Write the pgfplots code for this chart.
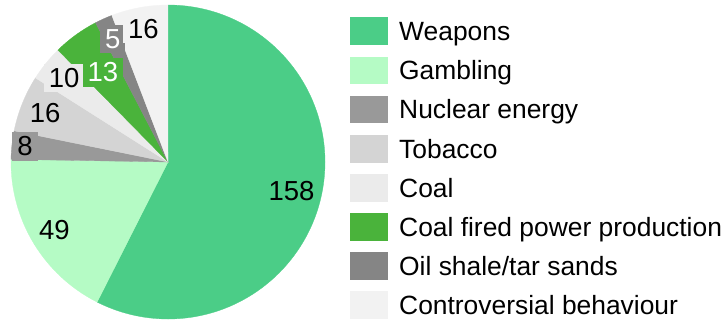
\documentclass[border=0pt]{standalone}
\usepackage{pgfplots}
\usepackage{pgfplotstable}
\pgfplotsset{compat=1.18}
\usepackage{fontspec}
\setmainfont{Liberation Sans}
\definecolor{cW}{HTML}{4BCD87}
\definecolor{cG}{HTML}{B5FBC5}
\definecolor{cN}{HTML}{999999}
\definecolor{cT}{HTML}{D4D4D4}
\definecolor{cC}{HTML}{EBEBEB}
\definecolor{cF}{HTML}{4AB33B}
\definecolor{cO}{HTML}{858585}
\definecolor{cB}{HTML}{F2F2F2}
\pgfplotstableread[col sep=comma]{
label,value,color,r,tc
Weapons,158,cW,0.809,black
Gambling,49,cG,0.845,black
Nuclear energy,8,cN,0.916,black
Tobacco,16,cT,0.843,black
Coal,10,cC,0.851,black
Coal fired power production,13,cF,0.706,white
Oil shale/tar sands,5,cO,0.859,white
Controversial behaviour,16,cB,0.862,black
}\data
\begin{document}
\begin{tikzpicture}
\path[use as bounding box] (0,0) rectangle (728pt,-322pt);
\pgfplotstablegetrowsof{\data}\pgfmathtruncatemacro\nlast{\pgfplotsretval-1}
\def\tot{0}
\pgfplotsforeachungrouped \i in {0,...,\nlast}{%
  \pgfplotstablegetelem{\i}{value}\of\data
  \pgfmathsetmacro\tot{\tot+\pgfplotsretval}%
}
\begin{axis}[
  x=157pt, y=157pt,
  xmin=-1, xmax=1, ymin=-1, ymax=1,
  hide axis, clip=false,
  at={(168pt,-162pt)}, anchor=center,
  legend image code/.code={\fill[#1, draw=none] (0pt,-13.85pt) rectangle (37.7pt,13.85pt);},
  legend style={draw=none, fill=none, inner sep=0pt, outer sep=0pt,
    at={(axis cs:1.1592,0.9213)}, anchor=north west,
    font=\fontsize{26.4}{30}\selectfont,
    row sep=11.45pt, column sep=11.5pt,
    nodes={inner sep=0pt, anchor=west, text height=18.9pt, text depth=0pt}},
  legend cell align=left,
]
\def\cur{90}
\pgfplotsforeachungrouped \i in {0,...,\nlast}{%
  \pgfplotstablegetelem{\i}{value}\of\data \let\v\pgfplotsretval
  \pgfplotstablegetelem{\i}{color}\of\data \let\c\pgfplotsretval
  \pgfplotstablegetelem{\i}{label}\of\data \let\lab\pgfplotsretval
  \pgfmathsetmacro\endA{\cur-360*(\v/\tot)}%
  \edef\tmp{\noexpand\fill[\c, draw=\c, line width=0.3pt] (axis cs:0,0) -- (axis cs:{cos(\cur)},{sin(\cur)}) arc[start angle=\cur, end angle=\endA, radius=157pt] -- cycle;
    \noexpand\addlegendimage{fill=\c}\noexpand\addlegendentry{\lab}}%
  \tmp
  \global\let\cur\endA
}
\def\cur{90}
\pgfplotsforeachungrouped \i in {0,...,\nlast}{%
  \pgfplotstablegetelem{\i}{value}\of\data \let\v\pgfplotsretval
  \pgfplotstablegetelem{\i}{color}\of\data \let\c\pgfplotsretval
  \pgfplotstablegetelem{\i}{r}\of\data \let\rr\pgfplotsretval
  \pgfplotstablegetelem{\i}{tc}\of\data \let\tc\pgfplotsretval
  \pgfmathsetmacro\endA{\cur-360*(\v/\tot)}%
  \pgfmathsetmacro\mid{(\cur+\endA)/2}%
  \pgfmathsetmacro\lx{\rr*cos(\mid)}%
  \pgfmathsetmacro\ly{\rr*sin(\mid)}%
  \edef\tmp{\noexpand\node[fill=\c, text=\tc, inner xsep=5pt, inner ysep=4.5pt, font=\noexpand\fontsize{27.5}{32}\noexpand\selectfont] at (axis cs:\lx,\ly) {\v};}%
  \tmp
  \global\let\cur\endA
}
\end{axis}
\end{tikzpicture}
\end{document}
